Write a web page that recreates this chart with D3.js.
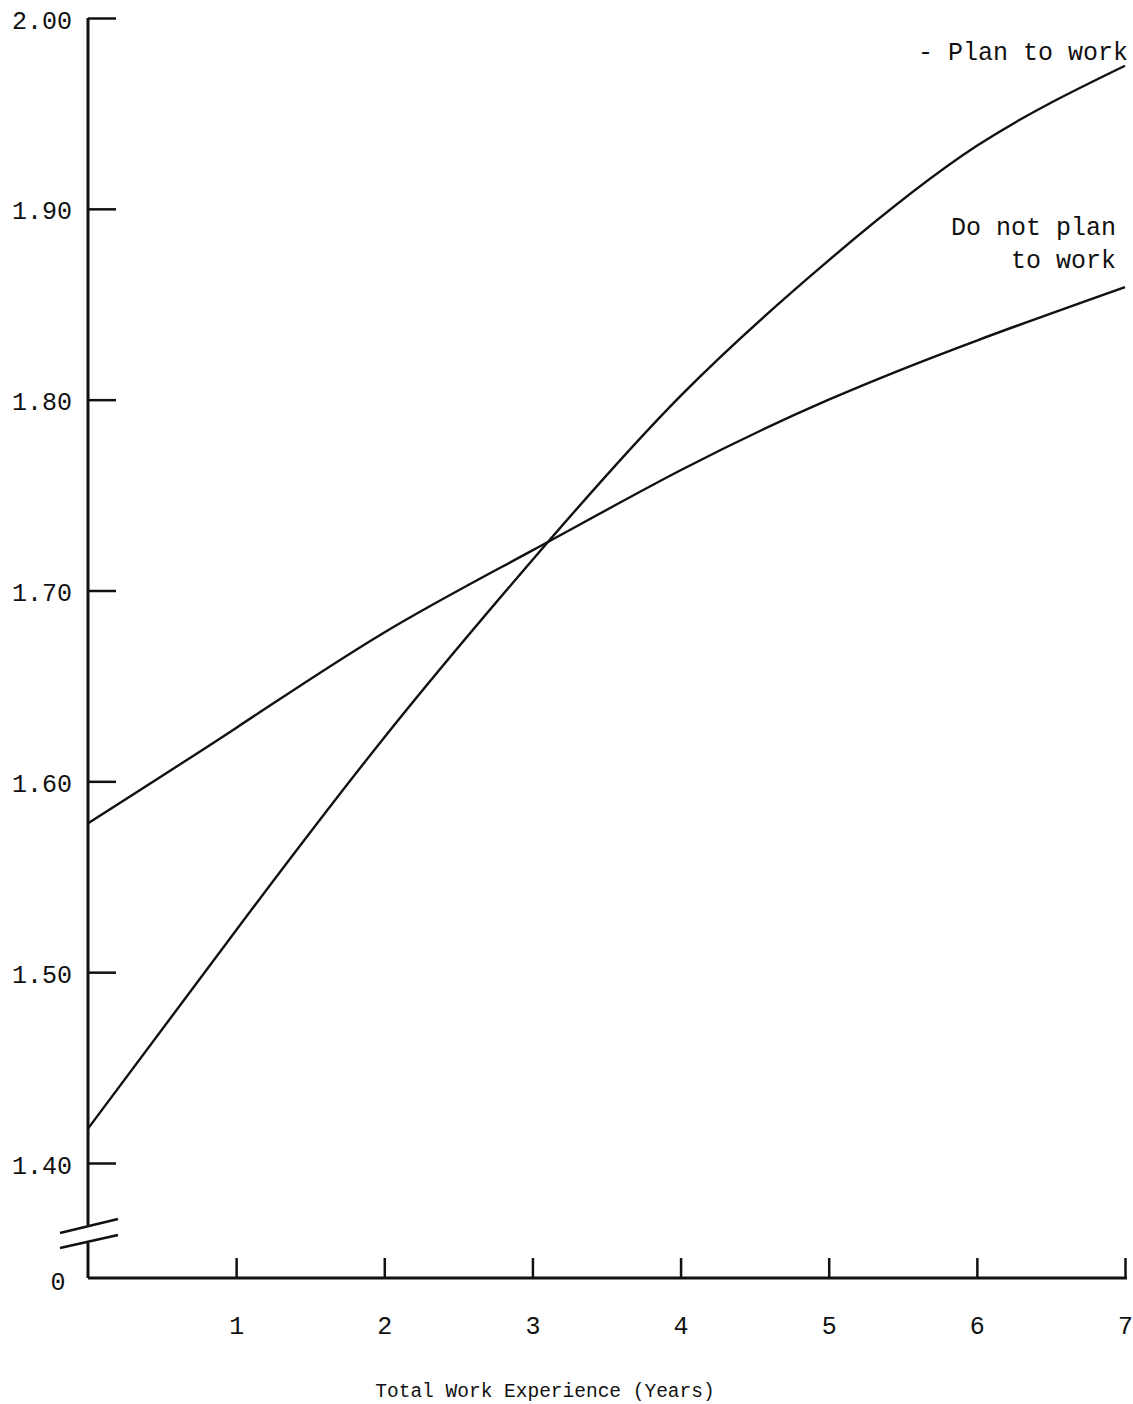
<!DOCTYPE html>
<html>
<head>
<meta charset="utf-8">
<script src="https://cdn.jsdelivr.net/npm/d3@7"></script>
<style>
  html, body { margin: 0; padding: 0; background: #fff; }
  svg { display: block; }
  text { font-family: "Liberation Mono", "DejaVu Sans Mono", monospace; fill: #111; }
</style>
</head>
<body>
<script>
// ---- data ----
const years = [0, 1, 2, 3, 4, 5, 6, 7];
const planToWork = [1.418, 1.522, 1.623, 1.716, 1.802, 1.873, 1.933, 1.975];
const doNotPlan = [1.578, 1.628, 1.678, 1.721, 1.763, 1.800, 1.831, 1.859];
const yTicks = [1.40, 1.50, 1.60, 1.70, 1.80, 1.90, 2.00];
const xTicks = [1, 2, 3, 4, 5, 6, 7];
const xTitle = "Total Work Experience (Years)";
const seriesLabels = ["-  Plan to work", "Do not plan", "to work"];

// ---- layout ----
const W = 1133, H = 1404;
const svg = d3.select("body").append("svg").attr("width", W).attr("height", H);

const x = d3.scaleLinear().domain([0, 7]).range([88, 1125]);
const y = d3.scaleLinear().domain([1.40, 2.00]).range([1163, 18]);
const baseY = 1278;

// y axis ticks + labels (ticks pointing inward)
const yAxis = d3.axisLeft(y).tickValues(yTicks).tickFormat(d3.format(".2f"))
  .tickSize(-28).tickPadding(16);
const gy = svg.append("g").attr("transform", `translate(${x(0)},0)`).call(yAxis);
gy.select(".domain").remove();
gy.selectAll(".tick line").attr("stroke", "#111").attr("stroke-width", 2.5);
gy.selectAll(".tick text").style("font-size", "25px").attr("fill", "#111")
  .attr("dy", "0.4em")
  .style("font-family", "'Liberation Mono', monospace");

// y axis line with break
svg.append("line").attr("x1", x(0)).attr("x2", x(0)).attr("y1", y(2.00)).attr("y2", 1225)
  .attr("stroke", "#111").attr("stroke-width", 3);
svg.append("line").attr("x1", x(0)).attr("x2", x(0)).attr("y1", 1243).attr("y2", baseY)
  .attr("stroke", "#111").attr("stroke-width", 3);
// break marks
svg.append("line").attr("x1", 60).attr("y1", 1233).attr("x2", 118).attr("y2", 1219)
  .attr("stroke", "#111").attr("stroke-width", 2.5);
svg.append("line").attr("x1", 60).attr("y1", 1248).attr("x2", 118).attr("y2", 1235)
  .attr("stroke", "#111").attr("stroke-width", 2.5);

// x axis
const xAxis = d3.axisBottom(x).tickValues(xTicks).tickFormat(d3.format("d"))
  .tickSize(-20).tickPadding(38);
const gx = svg.append("g").attr("transform", `translate(0,${baseY})`).call(xAxis);
gx.select(".domain").remove();
gx.selectAll(".tick line").attr("stroke", "#111").attr("stroke-width", 2.5);
gx.selectAll(".tick text").style("font-size", "25px").attr("fill", "#111")
  .style("font-family", "'Liberation Mono', monospace");
svg.append("line").attr("x1", x(0)).attr("x2", x(7) + 2).attr("y1", baseY).attr("y2", baseY)
  .attr("stroke", "#111").attr("stroke-width", 3);

// "0" label at origin
svg.append("text").attr("x", 58).attr("y", baseY + 12).attr("text-anchor", "middle")
  .style("font-size", "25px").text("0");

// x title
svg.append("text").attr("x", 545).attr("y", 1397).attr("text-anchor", "middle")
  .style("font-size", "19.5px").text(xTitle);

// curves
const line = d3.line().x((d, i) => x(years[i])).y(d => y(d)).curve(d3.curveNatural);
[planToWork, doNotPlan].forEach(s => {
  svg.append("path").datum(s).attr("d", line)
    .attr("fill", "none").attr("stroke", "#111").attr("stroke-width", 2.4);
});

// series labels
svg.append("text").attr("x", 1128).attr("y", 60).attr("text-anchor", "end")
  .style("font-size", "25px").text(seriesLabels[0]);
svg.append("text").attr("x", 1116).attr("y", 235).attr("text-anchor", "end")
  .style("font-size", "25px").text(seriesLabels[1]);
svg.append("text").attr("x", 1116).attr("y", 268).attr("text-anchor", "end")
  .style("font-size", "25px").text(seriesLabels[2]);
</script>
</body>
</html>
